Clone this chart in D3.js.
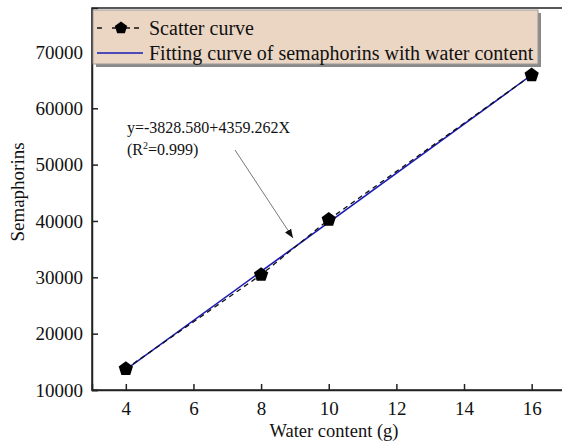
<!DOCTYPE html>
<html>
<head>
<meta charset="utf-8">
<script src="https://cdn.jsdelivr.net/npm/d3@7"></script>
<style>
  html, body { margin: 0; padding: 0; background: #fff; }
  svg { display: block; }
  svg text { font-family: "Liberation Serif", "Times New Roman", Times, serif; }
</style>
</head>
<body>
<svg id="chart" width="562" height="443" font-family="Liberation Serif"></svg>
<script>
// Measured water content (g) and semaphorin levels
const waterContent = [4, 8, 10, 16];
const semaphorins = [13750, 30450, 40250, 65890];

// Linear fit: y = a + b·x
const fitIntercept = -3828.580;
const fitSlope = 4359.262;
const fitRange = [4, 16];

const xTicks = [4, 6, 8, 10, 12, 14, 16];
const yTicks = [10000, 20000, 30000, 40000, 50000, 60000, 70000];

const legendLabels = ["Scatter curve", "Fitting curve of semaphorins with water content"];
const equationText = "y=-3828.580+4359.262X";

const svg = d3.select("#chart");
const margin = { left: 92, top: 8, bottom: 53 };
const W = 562, H = 443;
const plotBottom = H - margin.bottom;

const x = d3.scaleLinear().domain([3, 17]).range([margin.left, margin.left + 14 * 33.82]);
const y = d3.scaleLinear().domain([10000, 77800]).range([plotBottom, margin.top]);

function label(sel, size) {
  return sel.attr("font-family", "Liberation Serif").attr("font-size", size).attr("fill", "#111");
}

// Frame
svg.append("rect")
  .attr("x", x(3)).attr("y", y(77800))
  .attr("width", x(17) - x(3)).attr("height", y(10000) - y(77800))
  .attr("fill", "none").attr("stroke", "#222").attr("stroke-width", 1.5);

// Axes with inward ticks
const xAxis = svg.append("g")
  .attr("transform", `translate(0,${plotBottom})`)
  .call(d3.axisBottom(x).tickValues(xTicks).tickSize(-6).tickPadding(12).tickFormat(d3.format("d")));
const yAxis = svg.append("g")
  .attr("transform", `translate(${margin.left},0)`)
  .call(d3.axisLeft(y).tickValues(yTicks).tickSize(-6).tickPadding(9).tickFormat(d3.format("d")));
[xAxis, yAxis].forEach(g => {
  g.attr("font-family", "Liberation Serif").attr("font-size", 19);
  g.select(".domain").attr("stroke", "#222").attr("stroke-width", 1.5);
  g.selectAll(".tick line").attr("stroke", "#222").attr("stroke-width", 1.5);
  label(g.selectAll(".tick text"), 19);
});

// Axis titles
label(svg.append("text"), 18.5)
  .attr("x", 334).attr("y", 437)
  .attr("text-anchor", "middle").text("Water content (g)");
label(svg.append("text"), 19)
  .attr("transform", "translate(24,192) rotate(-90)")
  .attr("text-anchor", "middle").text("Semaphorins");

// Fitted line
const fitLine = d3.line().x(d => x(d)).y(d => y(fitIntercept + fitSlope * d));
svg.append("path").datum(fitRange)
  .attr("d", fitLine).attr("fill", "none")
  .attr("stroke", "#1a1ab4").attr("stroke-width", 1.6);

// Dashed scatter connection
const pts = waterContent.map((w, i) => [w, semaphorins[i]]);
svg.append("path").datum(pts)
  .attr("d", d3.line().x(d => x(d[0])).y(d => y(d[1])))
  .attr("fill", "none").attr("stroke", "#111")
  .attr("stroke-width", 1.3).attr("stroke-dasharray", "5,4");

// Pentagon markers
function pentagon(r) {
  const p = d3.range(5).map(i => {
    const a = -Math.PI / 2 + i * 2 * Math.PI / 5;
    return [r * Math.cos(a), r * Math.sin(a)];
  });
  return "M" + p.map(q => q.join(",")).join("L") + "Z";
}
svg.selectAll(".pt").data(pts).enter().append("path")
  .attr("class", "pt")
  .attr("transform", d => `translate(${x(d[0])},${y(d[1])})`)
  .attr("d", pentagon(7.5)).attr("fill", "#000");

// Equation annotation
label(svg.append("text"), 16).attr("x", 127).attr("y", 133).text(equationText);
const r2 = label(svg.append("text"), 16).attr("x", 127).attr("y", 155);
r2.append("tspan").text("(R");
r2.append("tspan").attr("dy", -6).attr("font-size", 10).text("2");
r2.append("tspan").attr("dy", 6).text("=0.999)");

svg.append("defs").append("marker")
  .attr("id", "arrow").attr("viewBox", "0 0 10 10")
  .attr("refX", 10).attr("refY", 5)
  .attr("markerWidth", 9).attr("markerHeight", 9)
  .attr("markerUnits", "userSpaceOnUse")
  .attr("orient", "auto")
  .append("path").attr("d", "M0,1L10,5L0,9Z").attr("fill", "#111");
svg.append("line")
  .attr("x1", 235).attr("y1", 150).attr("x2", 293).attr("y2", 238)
  .attr("stroke", "#777").attr("stroke-width", 1)
  .attr("marker-end", "url(#arrow)");

// Legend box with shadow
const lg = svg.append("g");
lg.append("rect").attr("x", 96).attr("y", 13).attr("width", 445).attr("height", 54)
  .attr("fill", "#8a8a8a");
lg.append("rect").attr("x", 93).attr("y", 10).attr("width", 445).attr("height", 54)
  .attr("fill", "#ebd6c4").attr("stroke", "#999").attr("stroke-width", 1);

// Legend row 1: dashed line with pentagon
lg.append("line").attr("x1", 97).attr("x2", 102).attr("y1", 28).attr("y2", 28)
  .attr("stroke", "#111").attr("stroke-width", 1.5);
lg.append("line").attr("x1", 112).attr("x2", 130).attr("y1", 28).attr("y2", 28)
  .attr("stroke", "#111").attr("stroke-width", 1.5);
lg.append("line").attr("x1", 134).attr("x2", 139).attr("y1", 28).attr("y2", 28)
  .attr("stroke", "#111").attr("stroke-width", 1.5);
lg.append("path").attr("transform", "translate(121,28)").attr("d", pentagon(6.5)).attr("fill", "#000");
// Legend row 2: fit line
lg.append("line").attr("x1", 97).attr("x2", 143).attr("y1", 53).attr("y2", 53)
  .attr("stroke", "#1a1ab4").attr("stroke-width", 1.6);

label(lg.selectAll(".lt").data(legendLabels).enter().append("text"), 20)
  .attr("x", 149).attr("y", (d, i) => 34.5 + i * 25).text(d => d);
</script>
</body>
</html>
